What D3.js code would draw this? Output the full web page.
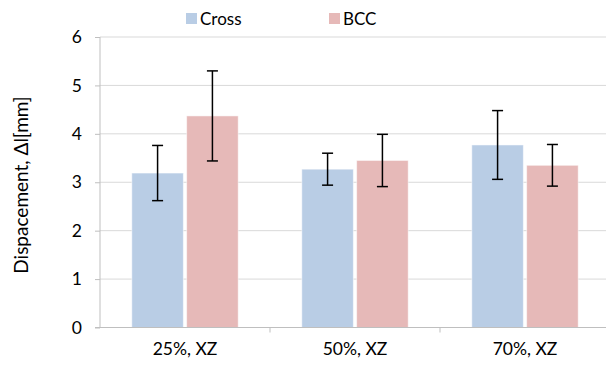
<!DOCTYPE html>
<html>
<head>
<meta charset="utf-8">
<script src="https://cdn.jsdelivr.net/npm/d3@7/dist/d3.min.js"></script>
<style>
  html, body { margin: 0; padding: 0; background: #fff; }
  svg text { font-family: Lato, "Open Sans", sans-serif; fill: #000; }
</style>
</head>
<body>
<svg id="chart" width="606" height="365"></svg>
<script>
// Displacement by infill density, two lattice types
const categories = ["25%, XZ", "50%, XZ", "70%, XZ"];
const seriesNames = ["Cross", "BCC"];
const crossValues = [3.19, 3.27, 3.77];
const crossErrors = [0.57, 0.33, 0.71];
const bccValues = [4.37, 3.45, 3.35];
const bccErrors = [0.93, 0.54, 0.43];
const yTicks = [0, 1, 2, 3, 4, 5, 6];
const colors = ["#B9CDE5", "#E6B9B8"];

const series = [
  { name: seriesNames[0], values: crossValues, errors: crossErrors, color: colors[0] },
  { name: seriesNames[1], values: bccValues, errors: bccErrors, color: colors[1] }
];

const svg = d3.select("#chart");
const margin = { left: 100, right: -4, top: 37, bottom: 37.5 };
const W = 606, H = 365;
const plotW = W - margin.left - margin.right;
const plotH = H - margin.top - margin.bottom;

const g = svg.append("g").attr("transform", `translate(${margin.left},${margin.top})`);

const x0 = d3.scaleBand().domain(categories).range([0, plotW]).paddingInner(0).paddingOuter(0);
const x1 = d3.scaleBand().domain(seriesNames).range([0, x0.bandwidth()]).paddingInner(0.06).paddingOuter(0.58);
const y = d3.scaleLinear().domain([0, 6]).range([plotH, 0]);

// horizontal gridlines
g.append("g")
  .selectAll("line")
  .data(yTicks.filter(t => t > 0))
  .join("line")
  .attr("x1", 0).attr("x2", plotW)
  .attr("y1", d => y(d)).attr("y2", d => y(d))
  .attr("stroke", "#d9d9d9").attr("stroke-width", 1);

// bars
const groups = g.selectAll("g.cat")
  .data(categories)
  .join("g")
  .attr("class", "cat")
  .attr("transform", d => `translate(${x0(d)},0)`);

series.forEach(s => {
  groups.append("rect")
    .attr("x", x1(s.name))
    .attr("y", (d, i) => y(s.values[i]))
    .attr("width", x1.bandwidth())
    .attr("height", (d, i) => plotH - y(s.values[i]))
    .attr("fill", s.color)
    .attr("stroke", "#fff").attr("stroke-opacity", 0.5).attr("stroke-width", 1);
});

// error bars (mean ± deviation)
series.forEach(s => {
  groups.each(function (d, i) {
    const gg = d3.select(this);
    const c = x1(s.name) + x1.bandwidth() / 2;
    const top = y(s.values[i] + s.errors[i]);
    const bot = y(s.values[i] - s.errors[i]);
    gg.append("line").attr("x1", c).attr("x2", c).attr("y1", top).attr("y2", bot)
      .attr("stroke", "#000").attr("stroke-width", 1.5);
    [top, bot].forEach(yy => {
      gg.append("line").attr("x1", c - 5.5).attr("x2", c + 5.5).attr("y1", yy).attr("y2", yy)
        .attr("stroke", "#000").attr("stroke-width", 1.5);
    });
  });
});

// y axis
const yAxis = g.append("g").call(d3.axisLeft(y).tickValues(yTicks).tickSize(5).tickPadding(13).tickFormat(d3.format("d")));
yAxis.select(".domain").attr("stroke", "#bfbfbf").attr("d", `M0,${plotH}V0`);
yAxis.selectAll(".tick line").attr("stroke", "#bfbfbf");
yAxis.selectAll(".tick text").attr("font-size", 17.5).style("font-family", "Lato, sans-serif");

// x axis
const xAxis = g.append("g").attr("transform", `translate(0,${plotH})`)
  .call(d3.axisBottom(x0).tickSize(0).tickPadding(15));
xAxis.select(".domain").attr("stroke", "#bfbfbf").attr("d", `M-5,0H${plotW}`);
xAxis.selectAll(".tick text").attr("font-size", 17.5).style("font-family", "Lato, sans-serif");
g.append("g").selectAll("line")
  .data(categories.slice(1))
  .join("line")
  .attr("x1", d => x0(d)).attr("x2", d => x0(d))
  .attr("y1", plotH).attr("y2", plotH + 5)
  .attr("stroke", "#bfbfbf");

// y axis title
svg.append("text")
  .attr("transform", `translate(28,${185}) rotate(-90)`)
  .attr("text-anchor", "middle")
  .attr("font-size", 19)
  .text("Dispacement, \u0394l[mm]");

// legend
const legend = svg.append("g");
const legendX = [186, 329];
series.forEach((s, i) => {
  legend.append("rect").attr("x", legendX[i]).attr("y", 13).attr("width", 11).attr("height", 11).attr("fill", s.color);
  legend.append("text").attr("x", legendX[i] + 14).attr("y", 24.5).attr("font-size", 17).text(s.name);
});
</script>
</body>
</html>
